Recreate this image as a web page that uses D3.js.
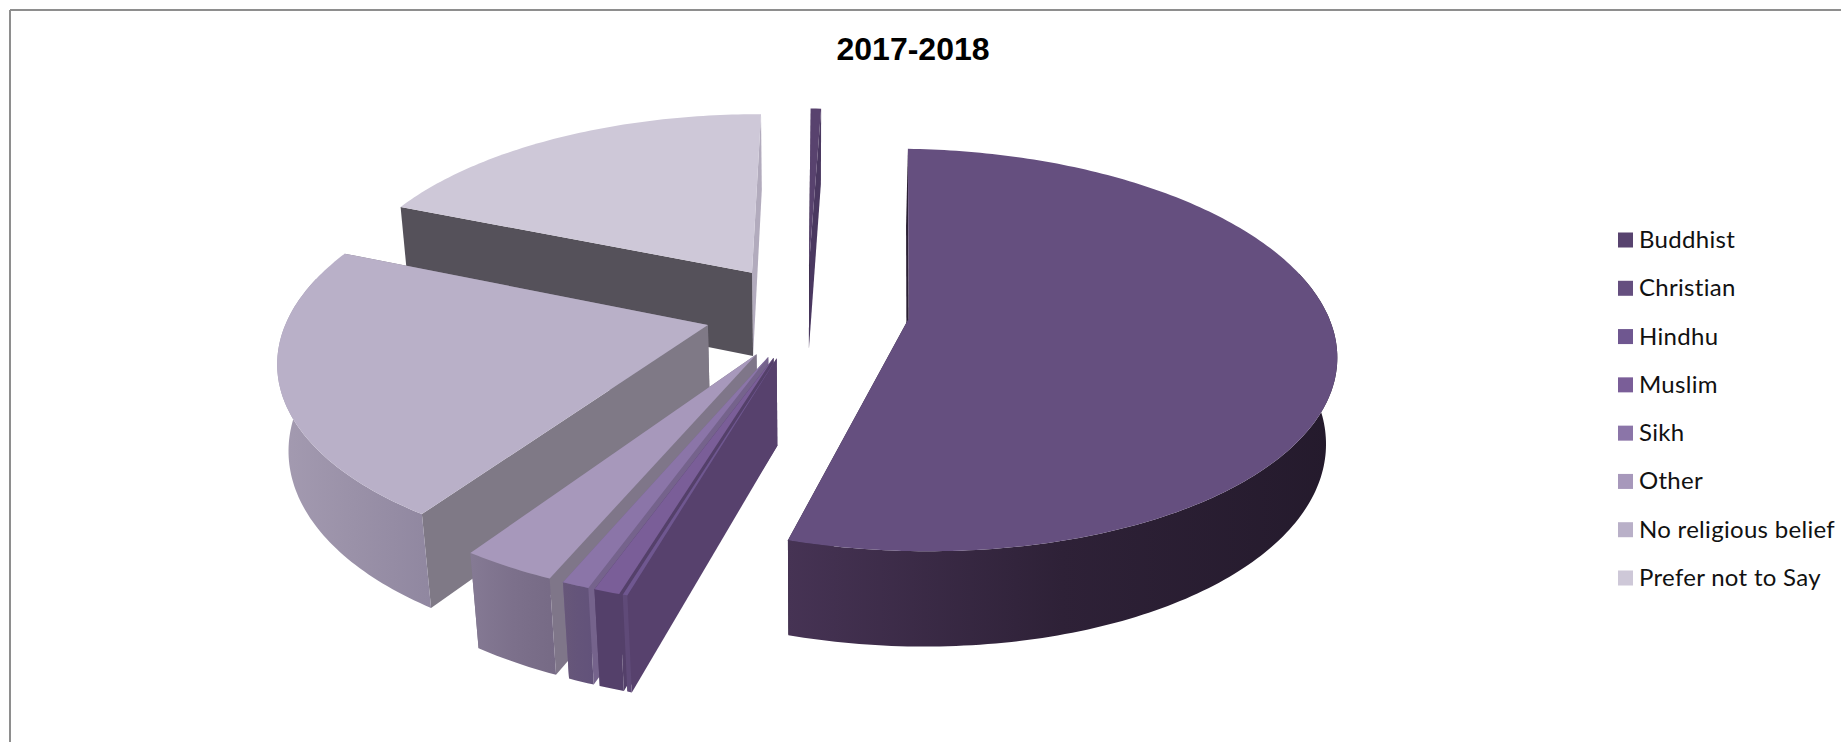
<!DOCTYPE html>
<html>
<head>
<meta charset="utf-8">
<script src="https://cdn.jsdelivr.net/npm/d3@7"></script>
<style>
html, body { margin: 0; padding: 0; background: #fff; overflow: hidden; }
</style>
</head>
<body>
<svg id="chart" width="1841" height="742"></svg>
<script>
// Share of respondents by religion, 2017-2018 (percent)
const categories = ["Buddhist", "Christian", "Hindhu", "Muslim", "Sikh", "Other", "No religious belief", "Prefer not to Say"];
const shares = [0.48, 53.95, 0.15, 0.83, 0.88, 3.04, 21.79, 18.86];

// Shading of each slice
const topColours   = ["#58426e", "#654f7f", "#6f5790", "#7a5e98", "#8b75a8", "#a798bb", "#b9b0c8", "#cec8d8"];
const startColours = ["#3a2c49", "#2a1f33", "#57416d", "#54406a", "#75638c", "#7f7689", "#7f7986", "#55515a"];
const endColours   = ["#4a3860", "#2a1f33", "#57416d", "#54406a", "#75638c", "#7f7689", "#7f7986", "#b2abbd"];
const wallLeft     = ["#4a3860", "#463354", "#5f4a78", "#54406a", "#675779", "#857a94", "#a49bb1", "#9a93a6"];
const wallMid      = ["#4a3860", "#2e2137", "#5f4a78", "#54406a", "#64547a", "#7c708b", "#9a91a8", "#9a93a6"];
const wallRight    = ["#4a3860", "#241a2c", "#5f4a78", "#54406a", "#62527a", "#766a85", "#9087a0", "#9a93a6"];
const legendSwatches = ["#58436f", "#654f7f", "#6f5790", "#7a5e98", "#8b75a8", "#a798bb", "#b9b0c8", "#cec8d8"];

const svg = d3.select("#chart");
const defs = svg.append("defs");

// Frame along the top and left edges
const frame = svg.append("g").attr("stroke", "#8e8e8e").attr("stroke-width", 2);
frame.append("line").attr("x1", 10).attr("y1", 10).attr("x2", 1841).attr("y2", 10);
frame.append("line").attr("x1", 10).attr("y1", 10).attr("x2", 10).attr("y2", 742);

svg.append("text")
  .attr("x", 913).attr("y", 60)
  .attr("text-anchor", "middle")
  .attr("font-family", "'Liberation Sans', Arial, sans-serif")
  .attr("font-weight", 700)
  .attr("font-size", 32)
  .attr("fill", "#000")
  .text("2017-2018");

// Perspective projection of the pie: u runs east, v runs toward the viewer, z runs down the thickness
const centreX = 807, centreY = 311;
const sx = d3.scaleLinear().domain([0, 1]).range([0, 418]);
const sy = d3.scaleLinear().domain([0, 1]).range([0, 194]);
const sz = d3.scaleLinear().domain([0, 1]).range([0, 87]);
const perspective = 0.155, shrink = 0.021, explode = 0.245;

function project(u, v, z) {
  const w = 1 / (1 - perspective * v + shrink * z);
  return [centreX + sx(u) * w, centreY + (sy(v) + sz(z)) * w];
}

const pie = d3.pie().sort(null)
  .startAngle(0.3 * Math.PI / 180)
  .endAngle(360.3 * Math.PI / 180);

const polygon = d3.line().curve(d3.curveLinearClosed);

const slices = pie(shares).map((arc, i) => {
  const mid = (arc.startAngle + arc.endAngle) / 2;
  return { i, arc, offU: explode * Math.sin(mid), offV: -explode * Math.cos(mid) };
});

const pieGroup = svg.append("g");

// Far slices first so nearer ones paint over them
slices.slice().sort((a, b) => a.offV - b.offV).forEach(s => {
  const { i, arc, offU, offV } = s;
  const rim = d3.range(0, 1.0001, 1 / Math.max(2, Math.ceil((arc.endAngle - arc.startAngle) * 60)))
    .map(t => arc.startAngle + t * (arc.endAngle - arc.startAngle));
  const rimPoint = (a, z) => project(offU + Math.sin(a), offV - Math.cos(a), z);
  const apex = z => project(offU, offV, z);

  const g = pieGroup.append("g").attr("class", "slice");
  const gradId = "wall-" + i;
  const grad = defs.append("linearGradient").attr("id", gradId).attr("x1", 0).attr("x2", 1).attr("y1", 0).attr("y2", 0);
  grad.append("stop").attr("offset", 0).attr("stop-color", wallLeft[i]);
  grad.append("stop").attr("offset", 0.5).attr("stop-color", wallMid[i]);
  grad.append("stop").attr("offset", 1).attr("stop-color", wallRight[i]);

  const wall = (a) => [apex(0), rimPoint(a, 0), rimPoint(a, 1), apex(1)];
  g.append("path").attr("d", polygon(wall(arc.endAngle))).attr("fill", endColours[i]);
  g.append("path").attr("d", polygon(wall(arc.startAngle))).attr("fill", startColours[i]);
  // Outer wall: only the arc seen from the front
  const frontRim = rim.filter(a => Math.cos(a) < 0.25);
  if (frontRim.length > 1) {
    const outer = frontRim.map(a => rimPoint(a, 0)).concat(frontRim.slice().reverse().map(a => rimPoint(a, 1)));
    g.append("path").attr("d", polygon(outer)).attr("fill", `url(#${gradId})`);
  }
  const top = [apex(0)].concat(rim.map(a => rimPoint(a, 0)));
  g.append("path").attr("d", polygon(top)).attr("fill", topColours[i]);
});

// Legend
const rows = d3.scalePoint().domain(categories).range([240, 578]);
const legend = svg.append("g").selectAll("g").data(categories).join("g")
  .attr("transform", d => `translate(1618,${rows(d)})`);
legend.append("rect")
  .attr("x", 0).attr("y", -7.5).attr("width", 15).attr("height", 15)
  .attr("fill", (d, i) => legendSwatches[i]);
legend.append("text")
  .attr("x", 21).attr("y", 8)
  .attr("font-family", "Lato, 'Noto Sans', sans-serif")
  .attr("font-size", 24)
  .attr("letter-spacing", 0.3)
  .style("font-variant-ligatures", "none")
  .attr("fill", "#111")
  .text(d => d);
</script>
</body>
</html>
